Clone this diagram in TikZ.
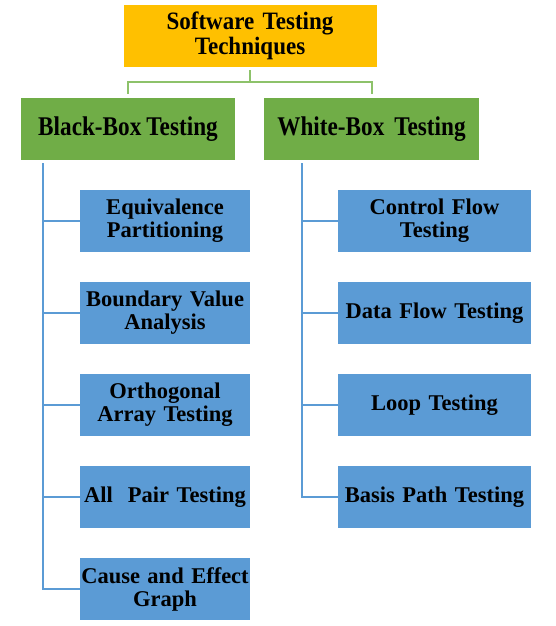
\documentclass[tikz,border=0pt]{standalone}
\usepackage{fontspec}
\setmainfont{Liberation Serif}[WordSpace=0.85]
\newfontfamily\rootfont{Liberation Serif}[FakeStretch=0.92, WordSpace=0.85]
\newfontfamily\branchfont{Liberation Serif}[FakeStretch=0.86, WordSpace=0.85]
\usepackage{xcolor}
\definecolor{Root}{HTML}{FFC000}
\definecolor{Branch}{HTML}{70AD47}
\definecolor{Leaf}{HTML}{5B9BD5}
\definecolor{BranchLine}{HTML}{8DC26A}
\tikzset{
    rootbox/.style={fill=Root, minimum width=253pt, minimum height=62pt, text width=253pt,
        inner sep=0pt, align=center, font=\rootfont\fontsize{25}{25}\selectfont\bfseries},
    branchbox/.style={fill=Branch, minimum width=214pt, minimum height=62pt,
        inner sep=0pt, align=center, font=\branchfont\fontsize{27}{27}\selectfont\bfseries},
    leafbox/.style={fill=Leaf, minimum height=62pt, inner sep=0pt, align=center,
        font=\fontsize{22.5}{23}\selectfont\bfseries},
    treeline/.style={draw=BranchLine, line width=2pt},
    leafline/.style={draw=Leaf, line width=2pt}
}
\begin{document}
\begin{tikzpicture}[x=1pt, y=1pt]
        % Define the dimensions of the tree
        \def\leftx{165}     % centre of the left column
        \def\rightx{434.5}  % centre of the right column
        \def\firsty{-221}   % centre of the first leaf
        \def\gap{92}        % distance between leaves

        \useasboundingbox (0,0) rectangle (555,-626);

        % Root and the two branches
        \node[rootbox] (root) at (250,-36) {Software Testing\\Techniques};
        \node[branchbox] (black) at (128,-129) {Black-Box Testing};
        \node[branchbox, minimum width=215pt] (white) at (371.5,-129) {White-Box\ \ Testing};

        % Leaves of the black-box branch
        \foreach \n/\t [count=\i from 0] in {equiv/Equivalence\\Partitioning, bva/Boundary Value\\Analysis,
                orth/Orthogonal\\Array Testing, pair/All\ \ Pair Testing, cause/Cause and Effect\\Graph} {
            \node[leafbox, minimum width=170pt, text width=170pt] (\n) at (\leftx, \firsty-\i*\gap) {\t};
        }

        % Leaves of the white-box branch
        \foreach \n/\t [count=\i from 0] in {cflow/Control Flow\\Testing, dflow/Data Flow Testing,
                loop/Loop Testing, basis/Basis Path Testing} {
            \node[leafbox, minimum width=193pt, text width=193pt] (\n) at (\rightx, \firsty-\i*\gap) {\t};
        }

        % Connect root with branches
        \foreach \b in {black, white} {
            \draw[treeline, shorten <=3pt, shorten >=4pt] (root.south) -- ++(0,-15) -| (\b.north);
        }

        % Connect branches with their leaves
        \foreach \n in {equiv, bva, orth, pair, cause} {
            \draw[leafline] ([xshift=22pt, yshift=-3pt]black.south west) |- (\n.west);
        }
        \foreach \n in {cflow, dflow, loop, basis} {
            \draw[leafline] ([xshift=38pt, yshift=-3pt]white.south west) |- (\n.west);
        }
    \end{tikzpicture}
\end{document}
